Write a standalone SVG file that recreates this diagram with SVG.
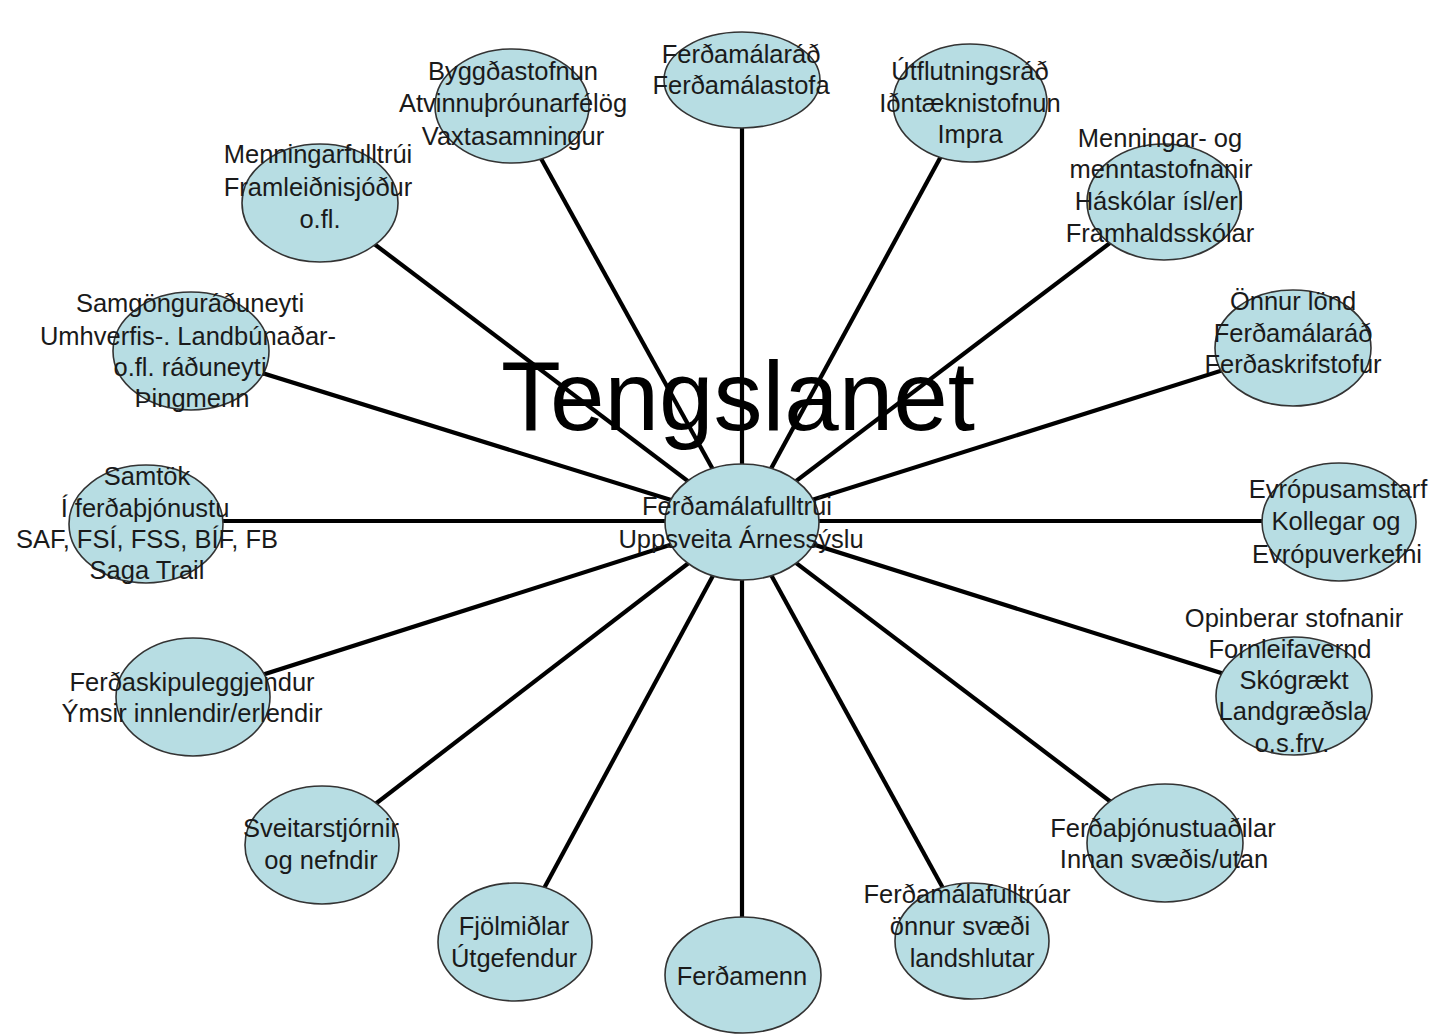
<svg xmlns="http://www.w3.org/2000/svg" width="1449" height="1034" viewBox="0 0 1449 1034">
<style>
.n{fill:#B7DDE3;stroke:#333;stroke-width:1.6}
.t{font-family:"Liberation Sans",Arial,sans-serif;font-size:25.5px;fill:#1a1a1a;text-anchor:middle}
.c line{stroke:#000;stroke-width:4.2}
.title{font-family:"Liberation Sans",Arial,sans-serif;font-size:98px;fill:#000;text-anchor:middle}
</style>
<rect width="1449" height="1034" fill="#fff"/>
<g id="connectors" class="c">
<line x1="742" y1="522" x2="742" y2="80"/>
<line x1="742" y1="522" x2="512" y2="106"/>
<line x1="742" y1="522" x2="970" y2="103"/>
<line x1="742" y1="522" x2="320" y2="203"/>
<line x1="742" y1="522" x2="1164" y2="202"/>
<line x1="742" y1="522" x2="191" y2="351"/>
<line x1="742" y1="522" x2="1293" y2="348"/>
<line x1="742" y1="521" x2="146" y2="521"/>
<line x1="742" y1="521" x2="1339" y2="521"/>
<line x1="742" y1="522" x2="193" y2="697"/>
<line x1="742" y1="522" x2="1294" y2="696"/>
<line x1="742" y1="522" x2="322" y2="845"/>
<line x1="742" y1="522" x2="1165" y2="843"/>
<line x1="742" y1="522" x2="515" y2="942"/>
<line x1="742" y1="522" x2="972" y2="941"/>
<line x1="742" y1="522" x2="742" y2="975"/>
</g>
<g id="n-ferdamalarad">
<ellipse class="n" cx="742" cy="80" rx="78" ry="48"/>
<text class="t" x="741" y="63">Ferðamálaráð</text>
<text class="t" x="741" y="94">Ferðamálastofa</text>
</g>
<g id="n-byggdastofnun">
<ellipse class="n" cx="512" cy="106" rx="77" ry="57"/>
<text class="t" x="513" y="80">Byggðastofnun</text>
<text class="t" x="513" y="112">Atvinnuþróunarfélög</text>
<text class="t" x="513" y="145">Vaxtasamningur</text>
</g>
<g id="n-utflutningsrad">
<ellipse class="n" cx="970" cy="103" rx="77" ry="59"/>
<text class="t" x="970" y="80">Útflutningsráð</text>
<text class="t" x="970" y="112">Iðntæknistofnun</text>
<text class="t" x="970" y="143">Impra</text>
</g>
<g id="n-menningarfulltrui">
<ellipse class="n" cx="320" cy="203" rx="78" ry="59"/>
<text class="t" x="318" y="163">Menningarfulltrúi</text>
<text class="t" x="318" y="196">Framleiðnisjóður</text>
<text class="t" x="320" y="228">o.fl.</text>
</g>
<g id="n-menntastofnanir">
<ellipse class="n" cx="1164" cy="202" rx="77" ry="58"/>
<text class="t" x="1160" y="147">Menningar- og</text>
<text class="t" x="1161" y="178">menntastofnanir</text>
<text class="t" x="1159" y="210">Háskólar ísl/erl</text>
<text class="t" x="1160" y="242">Framhaldsskólar</text>
</g>
<g id="n-raduneyti">
<ellipse class="n" cx="191" cy="351" rx="78" ry="59"/>
<text class="t" x="190" y="312">Samgönguráðuneyti</text>
<text class="t" x="188" y="345">Umhverfis-. Landbúnaðar-</text>
<text class="t" x="190" y="376">o.fl. ráðuneyti</text>
<text class="t" x="192" y="407">Þingmenn</text>
</g>
<g id="n-onnur-lond">
<ellipse class="n" cx="1293" cy="348" rx="78" ry="58"/>
<text class="t" x="1293" y="310">Önnur lönd</text>
<text class="t" x="1293" y="342">Ferðamálaráð</text>
<text class="t" x="1293" y="373">Ferðaskrifstofur</text>
</g>
<g id="n-samtok">
<ellipse class="n" cx="146" cy="524" rx="77" ry="59"/>
<text class="t" x="147" y="485">Samtök</text>
<text class="t" x="145" y="517">Í ferðaþjónustu</text>
<text class="t" x="147" y="548">SAF, FSÍ, FSS, BÍF, FB</text>
<text class="t" x="147" y="579">Saga Trail</text>
</g>
<g id="n-evropusamstarf">
<ellipse class="n" cx="1339" cy="522" rx="77" ry="59"/>
<text class="t" x="1338" y="498">Evrópusamstarf</text>
<text class="t" x="1336" y="530">Kollegar og</text>
<text class="t" x="1337" y="563">Evrópuverkefni</text>
</g>
<g id="n-ferdaskipuleggjendur">
<ellipse class="n" cx="193" cy="697" rx="77" ry="59"/>
<text class="t" x="192" y="691">Ferðaskipuleggjendur</text>
<text class="t" x="192" y="722">Ýmsir innlendir/erlendir</text>
</g>
<g id="n-opinberar">
<ellipse class="n" cx="1294" cy="696" rx="78" ry="59"/>
<text class="t" x="1294" y="627">Opinberar stofnanir</text>
<text class="t" x="1290" y="658">Fornleifavernd</text>
<text class="t" x="1294" y="689">Skógrækt</text>
<text class="t" x="1293" y="720">Landgræðsla</text>
<text class="t" x="1292" y="752">o.s.frv.</text>
</g>
<g id="n-sveitarstjornir">
<ellipse class="n" cx="322" cy="845" rx="77" ry="59"/>
<text class="t" x="321" y="837">Sveitarstjórnir</text>
<text class="t" x="321" y="869">og nefndir</text>
</g>
<g id="n-ferdathjonustuadilar">
<ellipse class="n" cx="1165" cy="843" rx="78" ry="59"/>
<text class="t" x="1163" y="837">Ferðaþjónustuaðilar</text>
<text class="t" x="1164" y="868">Innan svæðis/utan</text>
</g>
<g id="n-fjolmidlar">
<ellipse class="n" cx="515" cy="942" rx="77" ry="59"/>
<text class="t" x="514" y="935">Fjölmiðlar</text>
<text class="t" x="514" y="967">Útgefendur</text>
</g>
<g id="n-ferdamalafulltruar">
<ellipse class="n" cx="972" cy="941" rx="77" ry="58"/>
<text class="t" x="967" y="903">Ferðamálafulltrúar</text>
<text class="t" x="960" y="935">önnur svæði</text>
<text class="t" x="972" y="967">landshlutar</text>
</g>
<g id="n-ferdamenn">
<ellipse class="n" cx="743" cy="975" rx="78" ry="58"/>
<text class="t" x="742" y="985">Ferðamenn</text>
</g>
<g id="n-center">
<ellipse class="n" cx="742" cy="522" rx="77" ry="58"/>
<text class="t" x="737" y="515">Ferðamálafulltrúi</text>
<text class="t" x="741" y="548">Uppsveita Árnessýslu</text>
</g>
<text class="title" x="738" y="430">Tengslanet</text>
</svg>
